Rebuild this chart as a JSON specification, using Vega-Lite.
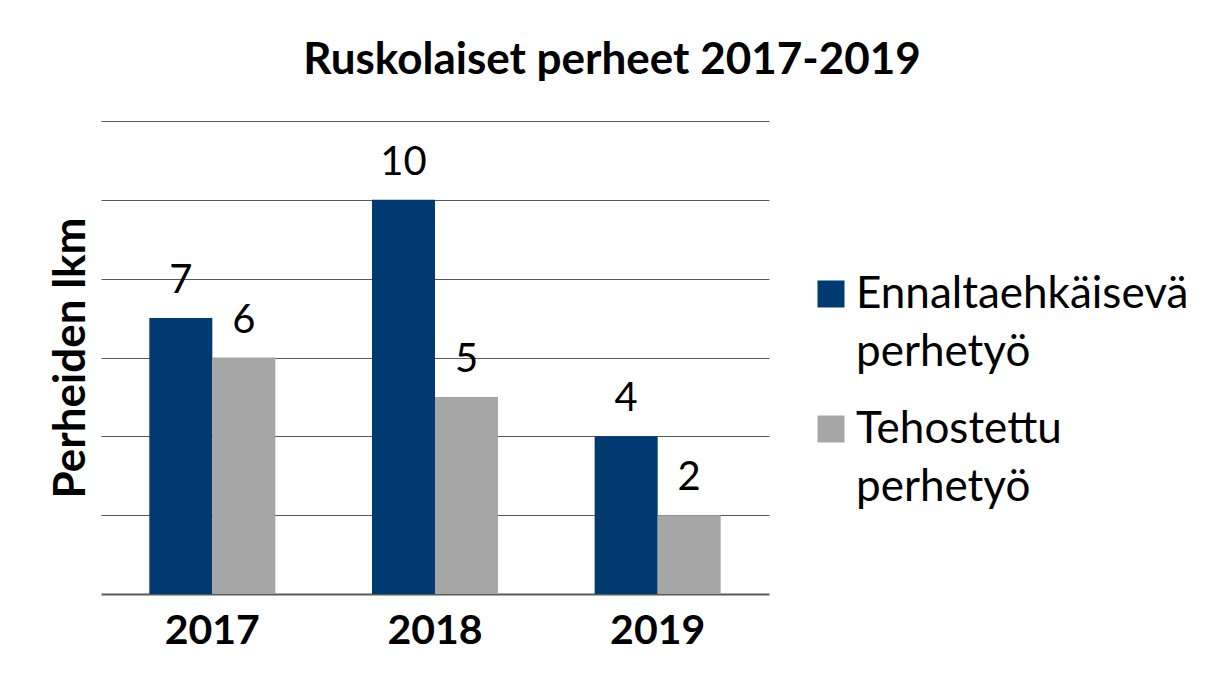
{
  "$schema": "https://vega.github.io/schema/vega-lite/v6.json",
  "autosize": "none",
  "width": 668,
  "height": 473,
  "padding": {"left": 101, "top": 121, "right": 453, "bottom": 88},
  "background": "white",
  "config": {"view": {"stroke": null}},
  "title": {
    "text": "Ruskolaiset perheet 2017-2019",
    "font": "Lato",
    "fontSize": 44,
    "fontWeight": "bold",
    "color": "#000000",
    "baseline": "alphabetic",
    "anchor": "middle",
    "offset": 3,
    "dx": 177
  },
  "data": {
    "values": [
      {"vuosi": "2017", "tyyppi": "Ennaltaehkäisevä perhetyö", "lkm": 7},
      {"vuosi": "2017", "tyyppi": "Tehostettu perhetyö", "lkm": 6},
      {"vuosi": "2018", "tyyppi": "Ennaltaehkäisevä perhetyö", "lkm": 10},
      {"vuosi": "2018", "tyyppi": "Tehostettu perhetyö", "lkm": 5},
      {"vuosi": "2019", "tyyppi": "Ennaltaehkäisevä perhetyö", "lkm": 4},
      {"vuosi": "2019", "tyyppi": "Tehostettu perhetyö", "lkm": 2}
    ]
  },
  "encoding": {
    "x": {
      "field": "vuosi",
      "type": "nominal",
      "scale": {"paddingInner": 0.434, "paddingOuter": 0.217},
      "axis": {
        "title": null,
        "labelAngle": 0,
        "labelFont": "Lato",
        "labelFontSize": 41,
        "labelFontWeight": "bold",
        "labelColor": "#000000",
        "labelBaseline": "alphabetic",
        "labelPadding": 49,
        "ticks": false,
        "domain": true,
        "domainColor": "#595959",
        "domainWidth": 2,
        "grid": false
      }
    },
    "xOffset": {"field": "tyyppi", "type": "nominal"},
    "y": {
      "field": "lkm",
      "type": "quantitative",
      "scale": {"domain": [0, 12], "nice": false},
      "axis": {
        "title": "Perheiden lkm",
        "titleFont": "Lato",
        "titleFontSize": 44,
        "titleFontWeight": "bold",
        "titleColor": "#000000",
        "titleBaseline": "alphabetic",
        "titlePadding": 17,
        "values": [2, 4, 6, 8, 10, 12],
        "labels": false,
        "ticks": false,
        "domain": false,
        "grid": true,
        "gridColor": "#595959",
        "gridWidth": 1.2
      }
    }
  },
  "layer": [
    {
      "mark": {"type": "bar"},
      "encoding": {
        "color": {
          "field": "tyyppi",
          "type": "nominal",
          "scale": {
            "domain": ["Ennaltaehkäisevä perhetyö", "Tehostettu perhetyö"],
            "range": ["#003A70", "#A6A6A6"]
          },
          "legend": {
            "title": null,
            "orient": "none",
            "legendX": 708,
            "legendY": 151,
            "padding": 0,
            "symbolType": "square",
            "symbolSize": 729,
            "symbolStrokeWidth": 0,
            "labelFont": "Lato",
            "labelFontSize": 44,
            "labelColor": "#000000",
            "labelOffset": 3,
            "labelLimit": 500,
            "labelExpr": "split(datum.label, ' ')",
            "labelBaseline": "top",
            "rowPadding": 32,
            "encode": {
              "labels": {
                "update": {
                  "lineHeight": {"value": 58},
                  "dy": {"value": -21}
                }
              }
            }
          }
        }
      }
    },
    {
      "mark": {
        "type": "text",
        "font": "Lato",
        "fontSize": 40,
        "color": "#000000",
        "baseline": "alphabetic",
        "dy": -25
      },
      "encoding": {
        "text": {"field": "lkm", "type": "quantitative"}
      }
    }
  ]
}
